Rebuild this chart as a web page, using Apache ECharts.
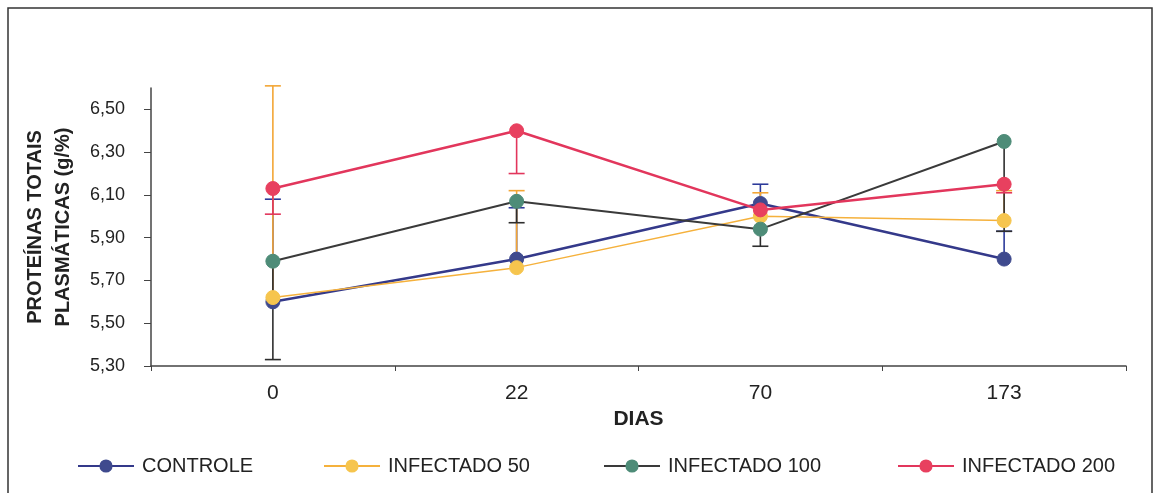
<!DOCTYPE html>
<html>
<head>
<meta charset="utf-8">
<script src="https://cdn.jsdelivr.net/npm/echarts@6/dist/echarts.min.js"></script>
<style>
html,body{margin:0;padding:0;background:#fff;}
#chart{width:1159px;height:493px;}
</style>
</head>
<body>
<div id="chart"></div>
<script>
// ---- data ----
var categories = ['0', '22', '70', '173'];
var seriesNames = ['CONTROLE', 'INFECTADO 50', 'INFECTADO 100', 'INFECTADO 200'];
var controle = [5.60, 5.80, 6.06, 5.80];
var infectado50 = [5.62, 5.76, 6.00, 5.98];
var infectado100 = [5.79, 6.07, 5.94, 6.35];
var infectado200 = [6.13, 6.40, 6.03, 6.15];
// error bar end values (null = none)
var errControle = [6.08, 6.04, 6.15, 5.93];
var errInfectado50 = [6.61, 6.12, 6.11, 6.12];
var errInfectado100 = [5.33, 5.97, 5.86, 5.93];
var errInfectado200 = [6.01, 6.20, null, 6.11];
var yTicks = [5.30, 5.50, 5.70, 5.90, 6.10, 6.30, 6.50];

var values = [controle, infectado50, infectado100, infectado200];
var errs = [errControle, errInfectado50, errInfectado100, errInfectado200];
var lineColors = ['#34398a', '#f5b13c', '#3a3a3a', '#e2365c'];
var markerColors = ['#3f4a8e', '#f6c54e', '#4e8c78', '#e8405f'];
var errColors = ['#2c3a9a', '#f3a635', '#2e2e2e', '#e2365c'];
var lineWidths = [2.5, 1.5, 2, 2.5];
var legendLeft = [77, 323, 603, 897];

var FONT = 'Liberation Sans, Arial, sans-serif';

var series = [];
// error bars first (underneath)
for (var s = 0; s < 4; s++) {
  (function (s) {
    var d = [];
    for (var i = 0; i < categories.length; i++) {
      if (errs[s][i] != null) d.push([i, values[s][i], errs[s][i]]);
    }
    series.push({
      type: 'custom',
      name: 'err' + s,
      z: 1,
      silent: true,
      data: d,
      renderItem: function (params, api) {
        var p0 = api.coord([api.value(0), api.value(1)]);
        var p1 = api.coord([api.value(0), api.value(2)]);
        var hw = 8;
        var st = {stroke: errColors[s], lineWidth: 1.6};
        return {
          type: 'group',
          children: [
            {type: 'line', shape: {x1: p0[0], y1: p0[1], x2: p1[0], y2: p1[1]}, style: st},
            {type: 'line', shape: {x1: p1[0] - hw, y1: p1[1], x2: p1[0] + hw, y2: p1[1]}, style: st}
          ]
        };
      }
    });
  })(s);
}
for (var s2 = 0; s2 < 4; s2++) {
  series.push({
    type: 'line',
    name: seriesNames[s2],
    data: values[s2],
    z: 3 + s2,
    symbol: 'circle',
    symbolSize: 14,
    lineStyle: {color: lineColors[s2], width: lineWidths[s2]},
    itemStyle: {color: markerColors[s2], borderColor: markerColors[s2], borderWidth: 1},
    emphasis: {disabled: true},
    animation: false
  });
}

var legends = [];
for (var k = 0; k < 4; k++) {
  legends.push({
    data: [seriesNames[k]],
    left: legendLeft[k],
    top: 456,
    padding: 0,
    itemWidth: 56,
    itemHeight: 14,
    itemGap: 0,
    textStyle: {fontSize: 20, color: '#222', fontFamily: FONT, padding: [0, 0, 0, 3]},
    selectedMode: false
  });
}

var chart = echarts.init(document.getElementById('chart'));
chart.setOption({
  animation: false,
  backgroundColor: '#ffffff',
  textStyle: {fontFamily: FONT},
  grid: {left: 151, right: 33, top: 88, bottom: 127, containLabel: false},
  legend: legends,
  xAxis: {
    type: 'category',
    data: categories,
    name: 'DIAS',
    nameLocation: 'middle',
    nameGap: 38,
    nameTextStyle: {fontSize: 21, fontWeight: 'bold', color: '#222', fontFamily: FONT},
    axisLine: {lineStyle: {color: '#444', width: 1.5}},
    axisTick: {show: true, length: 5, lineStyle: {color: '#444'}},
    axisLabel: {fontSize: 21, color: '#222', margin: 17, fontFamily: FONT},
    splitLine: {show: false}
  },
  yAxis: {
    type: 'value',
    min: 5.3,
    max: 6.6,
    interval: 0.2,
    name: 'PROTEÍNAS TOTAIS\nPLASMÁTICAS (g/%)',
    nameLocation: 'middle',
    nameGap: 74,
    nameTextStyle: {fontSize: 20, fontWeight: 'bold', color: '#222', lineHeight: 28, fontFamily: FONT},
    axisLine: {show: true, lineStyle: {color: '#444', width: 1.5}},
    axisTick: {show: true, length: 7, customValues: yTicks, lineStyle: {color: '#444'}},
    axisLabel: {
      fontSize: 18, color: '#222', margin: 26, fontFamily: FONT,
      customValues: yTicks,
      formatter: function (v) { return v.toFixed(2).replace('.', ','); }
    },
    splitLine: {show: false}
  },
  graphic: [{
    type: 'rect',
    shape: {x: 8, y: 8, width: 1144, height: 500},
    style: {fill: 'none', stroke: '#333', lineWidth: 1.5},
    silent: true
  }],
  series: series
});
</script>
</body>
</html>
